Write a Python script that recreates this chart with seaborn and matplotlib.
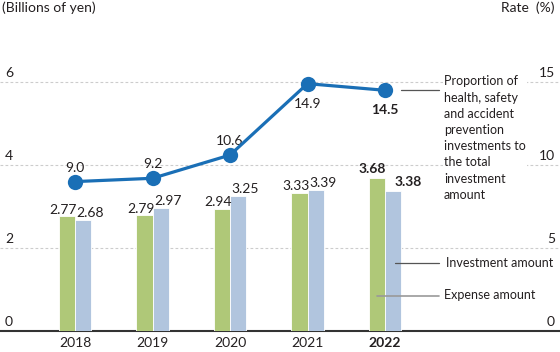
import numpy as np
import pandas as pd
import matplotlib.pyplot as plt
import matplotlib.transforms as mtransforms
import seaborn as sns

# data
years = ['2018', '2019', '2020', '2021', '2022']
expense = [2.77, 2.79, 2.94, 3.33, 3.68]
investment = [2.68, 2.97, 3.25, 3.39, 3.38]
rate = [9.0, 9.2, 10.6, 14.9, 14.5]
left_ticks = [0, 2, 4, 6]
right_ticks = [0, 5, 10, 15]

green = '#b4d56b'
blue = '#a9c4e6'
line_blue = '#1a6fb6'
txt = '#231f20'

sns.set_style('white')
plt.rcParams['font.family'] = ['Lato', 'DejaVu Sans']

df = pd.DataFrame({
    'Year': years * 2,
    'Amount': expense + investment,
    'Kind': ['Expense amount'] * len(years) + ['Investment amount'] * len(years),
})

fig = plt.figure(figsize=(5.6, 3.52), dpi=100)
ax = fig.add_axes([0.0, 21 / 352, 1.0, 290.5 / 352])

sns.barplot(data=df, x='Year', y='Amount', hue='Kind', palette=[green, blue],
            width=0.42, ax=ax, legend=False, edgecolor='white', linewidth=0.6,
            zorder=3)

ax.set_ylim(0, 7)
ax.set_xlim(-0.968, 6.258)
for s in ['top', 'right', 'left']:
    ax.spines[s].set_visible(False)
ax.spines['bottom'].set_color('#333333')
ax.spines['bottom'].set_linewidth(1.5)
ax.set_yticks([])
ax.set_xlabel('')
ax.set_ylabel('')
ax.tick_params(axis='x', length=0, pad=4.5, labelsize=10, labelcolor=txt)
for lab in ax.get_xticklabels():
    if lab.get_text() == '2022':
        lab.set_fontweight('bold')

# gridlines and y labels
trans = mtransforms.blended_transform_factory(ax.transAxes, ax.transData)
for v in left_ticks[1:]:
    ax.axhline(v, color='#cccccc', lw=0.8, ls=(0, (2.5, 2)), zorder=1)
for v in left_ticks:
    ax.text(0.009, v + 0.12, str(v), transform=trans, ha='left', va='baseline',
            fontsize=10, color=txt)
for lv, rv in zip(left_ticks, right_ticks):
    ax.text(0.991, lv + 0.12, str(rv), transform=trans, ha='right', va='baseline',
            fontsize=10, color=txt)

# bar value labels
x = np.arange(len(years))
for i in x:
    bold = years[i] == '2022'
    fw = 'bold' if bold else 'normal'
    ax.text(i - (0.17 if bold else 0.15), expense[i] + (0.12 if bold else 0.06),
            f'{expense[i]:.2f}', ha='center', va='baseline', fontsize=10,
            color=txt, fontweight=fw, zorder=5)
    ax.text(i + (0.30 if bold else 0.20), investment[i] + (0.12 if bold else 0.07),
            f'{investment[i]:.2f}', ha='center', va='baseline', fontsize=10,
            color=txt, fontweight=fw, zorder=5)

# rate line on right axis
ax2 = ax.twinx()
ax2.set_ylim(0, 17.5)
sns.lineplot(x=x, y=rate, ax=ax2, color=line_blue, lw=2.3, marker='o',
             markersize=11, markeredgewidth=0, zorder=6)
ax2.set_xlim(ax.get_xlim())
ax2.axis('off')
for i in x:
    bold = years[i] == '2022'
    if rate[i] > 14:
        ax2.text(i, rate[i] - 1.45, f'{rate[i]:.1f}', ha='center', va='baseline',
                 fontsize=10, color=txt, fontweight='bold' if bold else 'normal')
    else:
        ax2.text(i, rate[i] + 0.6, f'{rate[i]:.1f}', ha='center', va='baseline',
                 fontsize=10, color=txt)

# leader lines and labels
ax2.plot([4.2, 4.7], [rate[-1], rate[-1]], color='#555555', lw=0.9)
ax.text(4.76, 4.65, 'Proportion of\nhealth, safety\nand accident\nprevention\n'
        'investments to\nthe total\ninvestment\namount', ha='left', va='center',
        fontsize=9, color=txt, linespacing=1.42, zorder=7,
        bbox=dict(facecolor='white', edgecolor='none', pad=1))
ax.plot([4.13, 4.7], [1.63, 1.63], color='#555555', lw=0.9, zorder=6)
ax.text(4.79, 1.63, 'Investment amount', ha='left', va='center', fontsize=9, color=txt)
ax.plot([3.9, 4.7], [0.85, 0.85], color='#999999', lw=1.2, zorder=6)
ax.text(4.76, 0.87, 'Expense amount', ha='left', va='center', fontsize=9, color=txt)

fig.text(0.004, 0.997, '(Billions of yen)', ha='left', va='top', fontsize=10, color=txt)
fig.text(0.991, 0.997, 'Rate  (%)', ha='right', va='top', fontsize=10, color=txt)

fig.savefig('out.png', dpi=100)
